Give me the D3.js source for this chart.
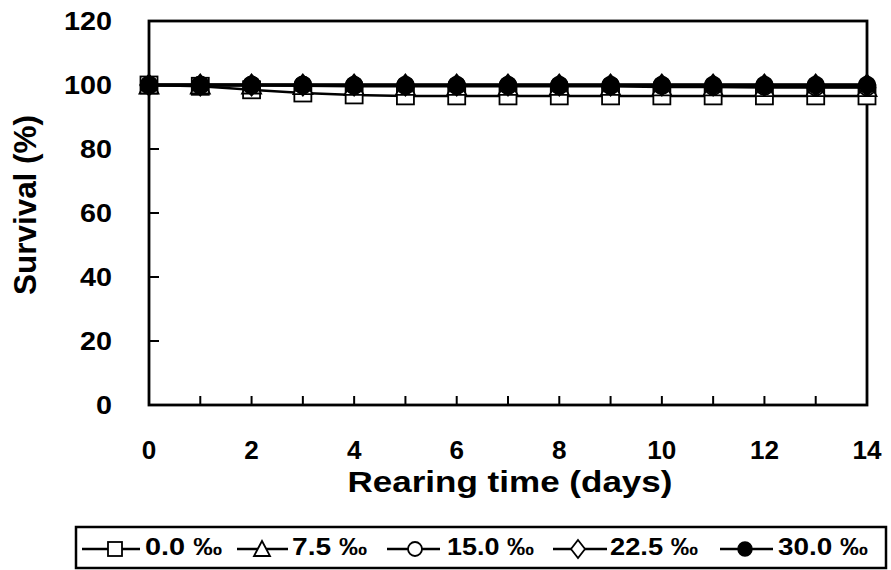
<!DOCTYPE html>
<html><head><meta charset="utf-8">
<script src="https://cdn.jsdelivr.net/npm/d3@7/dist/d3.min.js"></script>
<style>body{margin:0;background:#fff}svg{display:block}text{font-family:"Liberation Sans",Arial,sans-serif;font-weight:bold;fill:#000}</style>
</head><body>
<svg id="c" width="891" height="570"></svg>
<script>
const days = [0,1,2,3,4,5,6,7,8,9,10,11,12,13,14];
const s00  = [100,99.6,98.5,97.5,96.9,96.6,96.6,96.6,96.6,96.6,96.6,96.6,96.6,96.6,96.6];
const s75  = [100,100,100,99.8,99.6,99.6,99.6,99.6,99.6,99.6,99.4,99.4,99.2,99.2,99.2];
const s150 = [100,100,100,100,99.8,99.8,99.8,99.8,99.8,99.8,99.8,99.6,99.6,99.4,99.4];
const s225 = [100,100,100,100,100,100,100,100,100,100,100,100,100,100,100];
const s300 = [100,100,100,100,100,100,100,100,100,100,100,100,100,100,100];
const seriesNames = ["0.0 ‰","7.5 ‰","15.0 ‰","22.5 ‰","30.0 ‰"];
const seriesShapes = ["square","triangle","circle","diamond","filled"];
const seriesData = [s00,s75,s150,s225,s300];
const yTicks = [0,20,40,60,80,100,120];
const xTicks = [0,2,4,6,8,10,12,14];

const svg = d3.select("#c");
const L=149, R=867, T=21, B=405;
const x = d3.scaleLinear().domain([0,14]).range([L,R]);
const y = d3.scaleLinear().domain([0,120]).range([B,T]);

// frame
svg.append("rect").attr("x",L).attr("y",T).attr("width",R-L).attr("height",B-T)
  .attr("fill","none").attr("stroke","#000").attr("stroke-width",2.8);

// y ticks (inward)
svg.append("g").selectAll("line").data(yTicks.slice(1,-1)).join("line")
  .attr("x1",L).attr("x2",L+10).attr("y1",d=>y(d)).attr("y2",d=>y(d))
  .attr("stroke","#000").attr("stroke-width",2);
svg.append("g").selectAll("text").data(yTicks).join("text")
  .attr("x",112).attr("y",d=>y(d)+9).attr("text-anchor","end")
  .attr("font-size",26)
  .attr("textLength",d=>String(d).length*16).attr("lengthAdjust","spacingAndGlyphs")
  .text(d=>d);

// x ticks (inward, every day)
svg.append("g").selectAll("line").data(days.slice(1,-1)).join("line")
  .attr("x1",d=>x(d)).attr("x2",d=>x(d)).attr("y1",B).attr("y2",B-9)
  .attr("stroke","#000").attr("stroke-width",2);
svg.append("g").selectAll("text").data(xTicks).join("text")
  .attr("x",d=>x(d)).attr("y",459).attr("text-anchor","middle")
  .attr("font-size",25)
  .attr("textLength",d=>String(d).length*14.5).attr("lengthAdjust","spacingAndGlyphs")
  .text(d=>d);

svg.append("text").attr("x",510).attr("y",492).attr("text-anchor","middle")
  .attr("font-size",30).attr("textLength",325).attr("lengthAdjust","spacingAndGlyphs")
  .text("Rearing time (days)");
svg.append("text").attr("transform","translate(36,205) rotate(-90)").attr("text-anchor","middle")
  .attr("font-size",31).attr("textLength",180).attr("lengthAdjust","spacingAndGlyphs")
  .text("Survival (%)");

function marker(g, shape, cx, cy, s){
  const h=s/2;
  if(shape==="square") g.append("rect").attr("x",cx-h).attr("y",cy-h).attr("width",s).attr("height",s).attr("fill","#fff").attr("stroke","#000").attr("stroke-width",1.8);
  else if(shape==="triangle") g.append("path").attr("d",`M${cx},${cy-h-1}L${cx+h+1},${cy+h}L${cx-h-1},${cy+h}Z`).attr("fill","#fff").attr("stroke","#000").attr("stroke-width",1.8);
  else if(shape==="circle") g.append("circle").attr("cx",cx).attr("cy",cy).attr("r",h).attr("fill","#fff").attr("stroke","#000").attr("stroke-width",1.8);
  else if(shape==="diamond") g.append("path").attr("d",`M${cx},${cy-h-2}L${cx+h},${cy}L${cx},${cy+h+2}L${cx-h},${cy}Z`).attr("fill","#fff").attr("stroke","#000").attr("stroke-width",1.8);
  else g.append("circle").attr("cx",cx).attr("cy",cy).attr("r",h).attr("fill","#000").attr("stroke","#000").attr("stroke-width",1.5);
}

const line = d3.line().x((d,i)=>x(days[i])).y(d=>y(d));
seriesData.forEach((s,k)=>{
  const g = svg.append("g");
  g.append("path").attr("d",line(s)).attr("fill","none").attr("stroke","#000").attr("stroke-width",k===4?3.5:2.5);
  s.forEach((v,i)=>marker(g, seriesShapes[k], x(days[i]), y(v), 17));
});

// legend
const lg = svg.append("g");
lg.append("rect").attr("x",76).attr("y",527).attr("width",810).attr("height",41)
  .attr("fill","#fff").attr("stroke","#000").attr("stroke-width",2.5);
const legLine = [[82,140],[237,288],[387,440],[553,607],[720,773]];
const legMark = [115,262,415,578,745];
const legText = [[145,77],[292,75],[447,87],[610,88],[778,90]];
seriesNames.forEach((n,k)=>{
  lg.append("line").attr("x1",legLine[k][0]).attr("x2",legLine[k][1]).attr("y1",549).attr("y2",549).attr("stroke","#000").attr("stroke-width",2.5);
  marker(lg, seriesShapes[k], legMark[k], 549, 14);
  lg.append("text").attr("x",legText[k][0]).attr("y",555).attr("font-size",23)
    .attr("textLength",legText[k][1]).attr("lengthAdjust","spacingAndGlyphs").text(n);
});
</script>
</body></html>
